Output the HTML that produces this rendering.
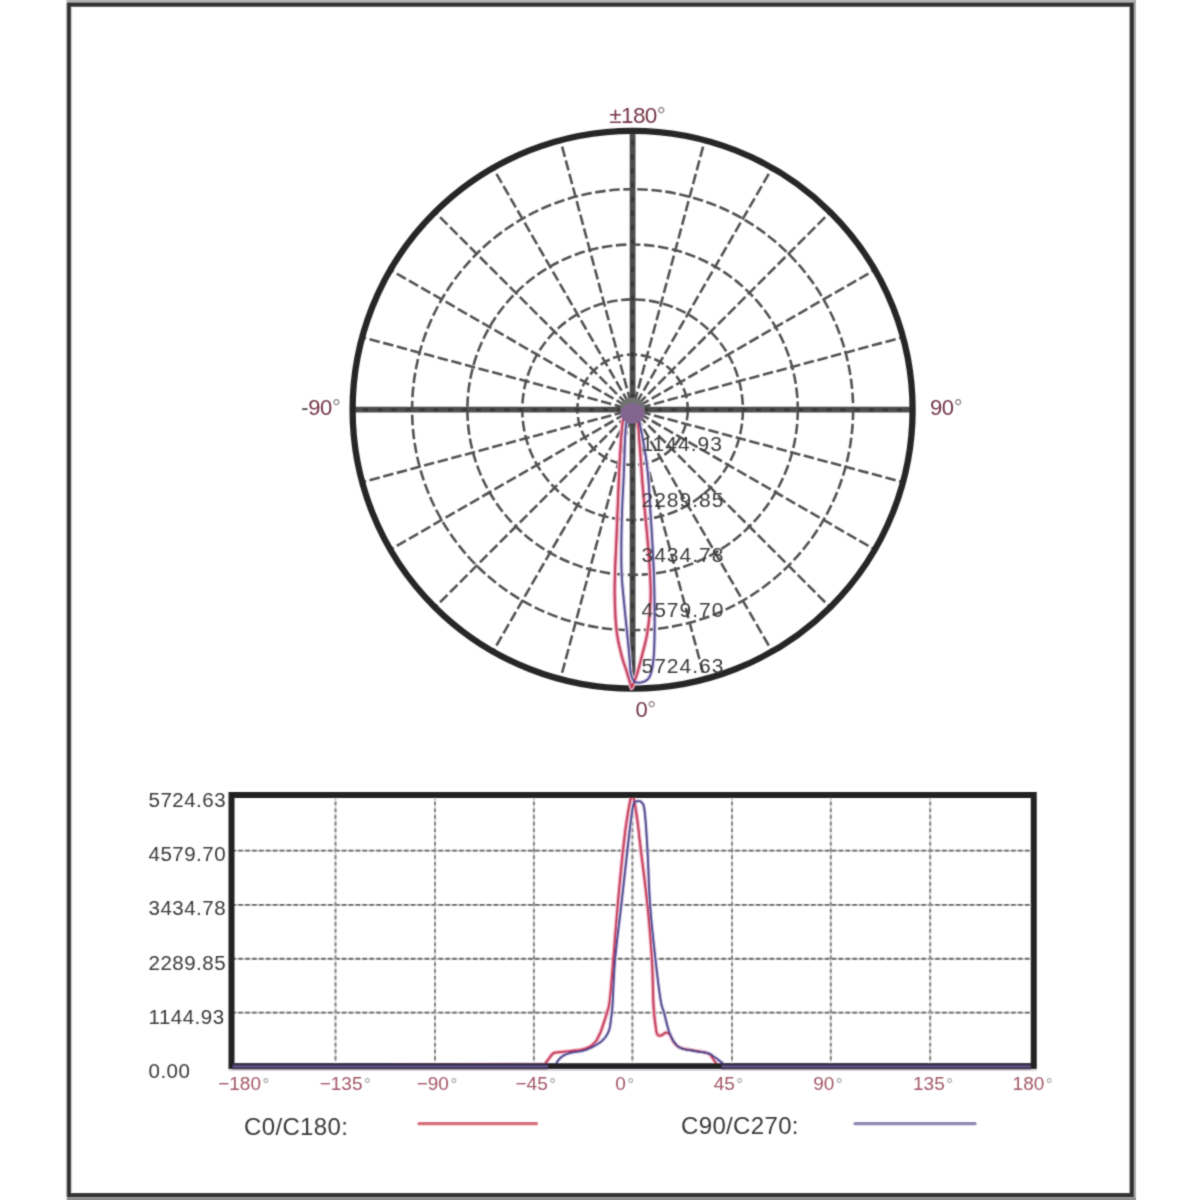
<!DOCTYPE html>
<html><head><meta charset="utf-8"><style>
html,body{margin:0;padding:0;background:#fff;}
svg{display:block;}
</style></head><body>
<svg width="1200" height="1200" viewBox="0 0 1200 1200">
<defs><filter id="bl" x="0" y="0" width="1200" height="1200" filterUnits="userSpaceOnUse"><feConvolveMatrix order="3" kernelMatrix="0.0277 0.1110 0.0277 0.1110 0.4452 0.1110 0.0277 0.1110 0.0277" edgeMode="duplicate" preserveAlpha="false"/></filter></defs>
<rect width="1200" height="1200" fill="#fff"/>
<g filter="url(#bl)">
<rect x="66" y="0" width="1070" height="2.6" fill="#b4b4b4"/>
<rect x="1133.5" y="0" width="2.5" height="1200" fill="#a8a8a8"/>
<rect x="66" y="1197.6" width="1070" height="2.4" fill="#8c8c8c"/>
<rect x="65.8" y="0" width="1.2" height="1200" fill="#e2e2e2"/>
<rect x="71" y="6.7" width="1.2" height="1186" fill="#d6d6d6"/>
<rect x="68.9" y="4.6" width="1062.9" height="1190.6" fill="none" stroke="#333" stroke-width="4.3"/>
<circle cx="632.6" cy="409.7" r="55.2" fill="none" stroke="#535353" stroke-width="2.6" stroke-dasharray="10.5 3.6"/>
<circle cx="632.6" cy="409.7" r="110.3" fill="none" stroke="#535353" stroke-width="2.6" stroke-dasharray="10.5 3.6"/>
<circle cx="632.6" cy="409.7" r="165.2" fill="none" stroke="#535353" stroke-width="2.6" stroke-dasharray="10.5 3.6"/>
<circle cx="632.6" cy="409.7" r="220.5" fill="none" stroke="#535353" stroke-width="2.6" stroke-dasharray="10.5 3.6"/>
<line x1="640.33" y1="411.77" x2="902.38" y2="481.99" stroke="#535353" stroke-width="2.6" stroke-dasharray="10.5 3.6"/>
<line x1="639.53" y1="413.70" x2="874.48" y2="549.35" stroke="#535353" stroke-width="2.6" stroke-dasharray="10.5 3.6"/>
<line x1="638.26" y1="415.36" x2="830.09" y2="607.19" stroke="#535353" stroke-width="2.6" stroke-dasharray="10.5 3.6"/>
<line x1="636.60" y1="416.63" x2="772.25" y2="651.58" stroke="#535353" stroke-width="2.6" stroke-dasharray="10.5 3.6"/>
<line x1="634.67" y1="417.43" x2="704.89" y2="679.48" stroke="#535353" stroke-width="2.6" stroke-dasharray="10.5 3.6"/>
<line x1="630.53" y1="417.43" x2="560.31" y2="679.48" stroke="#535353" stroke-width="2.6" stroke-dasharray="10.5 3.6"/>
<line x1="628.60" y1="416.63" x2="492.95" y2="651.58" stroke="#535353" stroke-width="2.6" stroke-dasharray="10.5 3.6"/>
<line x1="626.94" y1="415.36" x2="435.11" y2="607.19" stroke="#535353" stroke-width="2.6" stroke-dasharray="10.5 3.6"/>
<line x1="625.67" y1="413.70" x2="390.72" y2="549.35" stroke="#535353" stroke-width="2.6" stroke-dasharray="10.5 3.6"/>
<line x1="624.87" y1="411.77" x2="362.82" y2="481.99" stroke="#535353" stroke-width="2.6" stroke-dasharray="10.5 3.6"/>
<line x1="624.87" y1="407.63" x2="362.82" y2="337.41" stroke="#535353" stroke-width="2.6" stroke-dasharray="10.5 3.6"/>
<line x1="625.67" y1="405.70" x2="390.72" y2="270.05" stroke="#535353" stroke-width="2.6" stroke-dasharray="10.5 3.6"/>
<line x1="626.94" y1="404.04" x2="435.11" y2="212.21" stroke="#535353" stroke-width="2.6" stroke-dasharray="10.5 3.6"/>
<line x1="628.60" y1="402.77" x2="492.95" y2="167.82" stroke="#535353" stroke-width="2.6" stroke-dasharray="10.5 3.6"/>
<line x1="630.53" y1="401.97" x2="560.31" y2="139.92" stroke="#535353" stroke-width="2.6" stroke-dasharray="10.5 3.6"/>
<line x1="634.67" y1="401.97" x2="704.89" y2="139.92" stroke="#535353" stroke-width="2.6" stroke-dasharray="10.5 3.6"/>
<line x1="636.60" y1="402.77" x2="772.25" y2="167.82" stroke="#535353" stroke-width="2.6" stroke-dasharray="10.5 3.6"/>
<line x1="638.26" y1="404.04" x2="830.09" y2="212.21" stroke="#535353" stroke-width="2.6" stroke-dasharray="10.5 3.6"/>
<line x1="639.53" y1="405.70" x2="874.48" y2="270.05" stroke="#535353" stroke-width="2.6" stroke-dasharray="10.5 3.6"/>
<line x1="640.33" y1="407.63" x2="902.38" y2="337.41" stroke="#535353" stroke-width="2.6" stroke-dasharray="10.5 3.6"/>
<line x1="353.3" y1="409.7" x2="911.9000000000001" y2="409.7" stroke="#4e4e4e" stroke-width="5.8"/>
<line x1="632.6" y1="130.39999999999998" x2="632.6" y2="689.0" stroke="#4e4e4e" stroke-width="5.8"/>
<line x1="632.6" y1="409.7" x2="911.9000000000001" y2="409.7" stroke="#383838" stroke-width="3" stroke-dasharray="5 9.1" stroke-dashoffset="3.5"/>
<line x1="632.6" y1="409.7" x2="353.3" y2="409.7" stroke="#383838" stroke-width="3" stroke-dasharray="5 9.1" stroke-dashoffset="3.5"/>
<line x1="632.6" y1="409.7" x2="632.6" y2="689.0" stroke="#383838" stroke-width="3" stroke-dasharray="5 9.1" stroke-dashoffset="3.5"/>
<line x1="632.6" y1="409.7" x2="632.6" y2="130.39999999999998" stroke="#383838" stroke-width="3" stroke-dasharray="5 9.1" stroke-dashoffset="3.5"/>
<ellipse cx="632.6" cy="409.7" rx="280.0" ry="278.90000000000003" fill="none" stroke="#282828" stroke-width="6.3"/>
<path d="M627.00,413.00 L626.59,413.51 L626.01,414.19 L625.32,415.00 L624.63,415.93 L623.99,416.94 L623.50,418.00 L623.17,419.09 L622.93,420.22 L622.76,421.44 L622.62,422.78 L622.48,424.28 L622.30,426.00 L622.09,427.92 L621.87,430.00 L621.65,432.25 L621.43,434.67 L621.21,437.25 L621.00,440.00 L620.79,442.97 L620.59,446.19 L620.38,449.56 L620.18,453.04 L619.99,456.54 L619.80,460.00 L619.62,463.41 L619.45,466.81 L619.29,470.25 L619.13,473.74 L618.96,477.31 L618.80,481.00 L618.64,484.70 L618.48,488.37 L618.32,492.12 L618.16,496.07 L617.99,500.33 L617.80,505.00 L617.59,510.22 L617.36,515.93 L617.12,521.94 L616.88,528.07 L616.64,534.16 L616.40,540.00 L616.15,545.69 L615.89,551.37 L615.62,557.00 L615.38,562.52 L615.16,567.87 L615.00,573.00 L614.87,577.79 L614.77,582.27 L614.69,586.58 L614.67,590.87 L614.70,595.30 L614.80,600.00 L614.96,605.10 L615.17,610.51 L615.43,616.06 L615.77,621.55 L616.19,626.83 L616.70,631.70 L617.34,636.20 L618.11,640.48 L618.96,644.54 L619.85,648.37 L620.74,651.99 L621.60,655.40 L622.43,658.49 L623.26,661.26 L624.09,663.80 L624.92,666.24 L625.76,668.71 L626.60,671.30 L627.50,674.21 L628.48,677.37 L629.46,680.54 L630.37,683.50 L631.14,686.00 L631.70,687.80 L632.28,686.35 L633.09,684.40 L634.04,682.06 L635.06,679.47 L636.07,676.74 L637.00,674.00 L637.84,671.24 L638.67,668.34 L639.49,665.32 L640.31,662.16 L641.14,658.85 L642.00,655.40 L642.92,651.84 L643.89,648.17 L644.87,644.37 L645.83,640.38 L646.72,636.17 L647.50,631.70 L648.20,626.83 L648.85,621.55 L649.43,616.06 L649.93,610.51 L650.33,605.10 L650.60,600.00 L650.73,595.30 L650.74,590.87 L650.64,586.58 L650.47,582.27 L650.25,577.79 L650.00,573.00 L649.71,567.87 L649.37,562.52 L648.97,557.00 L648.53,551.37 L648.07,545.69 L647.60,540.00 L647.09,534.16 L646.52,528.07 L645.92,521.94 L645.34,515.93 L644.79,510.22 L644.30,505.00 L643.89,500.33 L643.52,496.07 L643.19,492.12 L642.88,488.37 L642.59,484.70 L642.30,481.00 L642.02,477.31 L641.76,473.74 L641.52,470.25 L641.28,466.81 L641.04,463.41 L640.80,460.00 L640.54,456.54 L640.28,453.04 L640.01,449.56 L639.76,446.19 L639.52,442.97 L639.30,440.00 L639.12,437.25 L638.96,434.67 L638.81,432.25 L638.68,430.00 L638.54,427.92 L638.40,426.00 L638.26,424.28 L638.12,422.78 L637.99,421.44 L637.84,420.22 L637.68,419.09 L637.50,418.00 L637.27,416.94 L636.99,415.93 L636.69,415.00 L636.41,414.19 L636.17,413.51 L636.00,413.00" fill="none" stroke="#f2b0c2" stroke-width="4.4" stroke-linejoin="round"/>
<path d="M636.00,413.00 L636.29,413.51 L636.71,414.19 L637.20,415.00 L637.71,415.93 L638.19,416.94 L638.60,418.00 L638.91,419.09 L639.16,420.22 L639.39,421.44 L639.61,422.78 L639.88,424.28 L640.20,426.00 L640.59,427.92 L641.03,430.00 L641.49,432.25 L641.99,434.67 L642.49,437.25 L643.00,440.00 L643.53,442.97 L644.10,446.19 L644.69,449.56 L645.26,453.04 L645.81,456.54 L646.30,460.00 L646.74,463.41 L647.14,466.81 L647.51,470.25 L647.86,473.74 L648.19,477.31 L648.50,481.00 L648.78,484.70 L649.03,488.37 L649.25,492.12 L649.47,496.07 L649.72,500.33 L650.00,505.00 L650.33,510.22 L650.70,515.93 L651.09,521.94 L651.49,528.07 L651.86,534.16 L652.20,540.00 L652.51,545.69 L652.81,551.37 L653.09,557.00 L653.36,562.52 L653.59,567.87 L653.80,573.00 L653.98,577.79 L654.12,582.27 L654.24,586.58 L654.34,590.87 L654.43,595.30 L654.50,600.00 L654.56,605.10 L654.61,610.51 L654.64,616.06 L654.66,621.55 L654.64,626.83 L654.60,631.70 L654.54,636.20 L654.46,640.48 L654.35,644.54 L654.21,648.37 L654.03,651.99 L653.80,655.40 L653.52,658.59 L653.21,661.56 L652.85,664.32 L652.45,666.86 L652.00,669.19 L651.50,671.30 L650.97,673.17 L650.42,674.79 L649.83,676.20 L649.16,677.43 L648.39,678.52 L647.50,679.50 L646.43,680.35 L645.19,681.05 L643.84,681.60 L642.48,682.03 L641.17,682.36 L640.00,682.60 L638.90,682.71 L637.81,682.65 L636.78,682.49 L635.85,682.29 L635.08,682.11 L634.50,682.00 L634.19,681.46 L633.75,680.73 L633.23,679.86 L632.70,678.90 L632.20,677.93 L631.80,677.00 L631.50,676.21 L631.26,675.53 L631.06,674.83 L630.87,673.98 L630.69,672.85 L630.50,671.30 L630.31,669.33 L630.13,667.04 L629.96,664.47 L629.78,661.66 L629.56,658.62 L629.30,655.40 L628.99,651.99 L628.65,648.37 L628.27,644.54 L627.87,640.48 L627.45,636.20 L627.00,631.70 L626.51,626.83 L625.96,621.55 L625.39,616.06 L624.83,610.51 L624.29,605.10 L623.80,600.00 L623.35,595.30 L622.92,590.87 L622.51,586.58 L622.15,582.27 L621.84,577.79 L621.60,573.00 L621.44,567.87 L621.34,562.52 L621.31,557.00 L621.31,551.37 L621.35,545.69 L621.40,540.00 L621.48,534.16 L621.61,528.07 L621.76,521.94 L621.94,515.93 L622.12,510.22 L622.30,505.00 L622.49,500.33 L622.69,496.07 L622.91,492.12 L623.12,488.37 L623.32,484.70 L623.50,481.00 L623.66,477.31 L623.80,473.74 L623.93,470.25 L624.06,466.81 L624.18,463.41 L624.30,460.00 L624.42,456.54 L624.53,453.04 L624.64,449.56 L624.75,446.19 L624.87,442.97 L625.00,440.00 L625.14,437.25 L625.29,434.67 L625.45,432.25 L625.62,430.00 L625.80,427.92 L626.00,426.00 L626.22,424.28 L626.44,422.78 L626.69,421.44 L626.94,420.22 L627.22,419.09 L627.50,418.00 L627.83,416.94 L628.20,415.93 L628.59,415.00 L628.96,414.19 L629.28,413.51 L629.50,413.00" fill="none" stroke="#cfc6e6" stroke-width="4" stroke-linejoin="round"/>
<path d="M627.00,413.00 L626.59,413.51 L626.01,414.19 L625.32,415.00 L624.63,415.93 L623.99,416.94 L623.50,418.00 L623.17,419.09 L622.93,420.22 L622.76,421.44 L622.62,422.78 L622.48,424.28 L622.30,426.00 L622.09,427.92 L621.87,430.00 L621.65,432.25 L621.43,434.67 L621.21,437.25 L621.00,440.00 L620.79,442.97 L620.59,446.19 L620.38,449.56 L620.18,453.04 L619.99,456.54 L619.80,460.00 L619.62,463.41 L619.45,466.81 L619.29,470.25 L619.13,473.74 L618.96,477.31 L618.80,481.00 L618.64,484.70 L618.48,488.37 L618.32,492.12 L618.16,496.07 L617.99,500.33 L617.80,505.00 L617.59,510.22 L617.36,515.93 L617.12,521.94 L616.88,528.07 L616.64,534.16 L616.40,540.00 L616.15,545.69 L615.89,551.37 L615.62,557.00 L615.38,562.52 L615.16,567.87 L615.00,573.00 L614.87,577.79 L614.77,582.27 L614.69,586.58 L614.67,590.87 L614.70,595.30 L614.80,600.00 L614.96,605.10 L615.17,610.51 L615.43,616.06 L615.77,621.55 L616.19,626.83 L616.70,631.70 L617.34,636.20 L618.11,640.48 L618.96,644.54 L619.85,648.37 L620.74,651.99 L621.60,655.40 L622.43,658.49 L623.26,661.26 L624.09,663.80 L624.92,666.24 L625.76,668.71 L626.60,671.30 L627.50,674.21 L628.48,677.37 L629.46,680.54 L630.37,683.50 L631.14,686.00 L631.70,687.80 L632.28,686.35 L633.09,684.40 L634.04,682.06 L635.06,679.47 L636.07,676.74 L637.00,674.00 L637.84,671.24 L638.67,668.34 L639.49,665.32 L640.31,662.16 L641.14,658.85 L642.00,655.40 L642.92,651.84 L643.89,648.17 L644.87,644.37 L645.83,640.38 L646.72,636.17 L647.50,631.70 L648.20,626.83 L648.85,621.55 L649.43,616.06 L649.93,610.51 L650.33,605.10 L650.60,600.00 L650.73,595.30 L650.74,590.87 L650.64,586.58 L650.47,582.27 L650.25,577.79 L650.00,573.00 L649.71,567.87 L649.37,562.52 L648.97,557.00 L648.53,551.37 L648.07,545.69 L647.60,540.00 L647.09,534.16 L646.52,528.07 L645.92,521.94 L645.34,515.93 L644.79,510.22 L644.30,505.00 L643.89,500.33 L643.52,496.07 L643.19,492.12 L642.88,488.37 L642.59,484.70 L642.30,481.00 L642.02,477.31 L641.76,473.74 L641.52,470.25 L641.28,466.81 L641.04,463.41 L640.80,460.00 L640.54,456.54 L640.28,453.04 L640.01,449.56 L639.76,446.19 L639.52,442.97 L639.30,440.00 L639.12,437.25 L638.96,434.67 L638.81,432.25 L638.68,430.00 L638.54,427.92 L638.40,426.00 L638.26,424.28 L638.12,422.78 L637.99,421.44 L637.84,420.22 L637.68,419.09 L637.50,418.00 L637.27,416.94 L636.99,415.93 L636.69,415.00 L636.41,414.19 L636.17,413.51 L636.00,413.00" fill="none" stroke="#bf3254" stroke-width="1.9" stroke-linejoin="round"/>
<path d="M636.00,413.00 L636.29,413.51 L636.71,414.19 L637.20,415.00 L637.71,415.93 L638.19,416.94 L638.60,418.00 L638.91,419.09 L639.16,420.22 L639.39,421.44 L639.61,422.78 L639.88,424.28 L640.20,426.00 L640.59,427.92 L641.03,430.00 L641.49,432.25 L641.99,434.67 L642.49,437.25 L643.00,440.00 L643.53,442.97 L644.10,446.19 L644.69,449.56 L645.26,453.04 L645.81,456.54 L646.30,460.00 L646.74,463.41 L647.14,466.81 L647.51,470.25 L647.86,473.74 L648.19,477.31 L648.50,481.00 L648.78,484.70 L649.03,488.37 L649.25,492.12 L649.47,496.07 L649.72,500.33 L650.00,505.00 L650.33,510.22 L650.70,515.93 L651.09,521.94 L651.49,528.07 L651.86,534.16 L652.20,540.00 L652.51,545.69 L652.81,551.37 L653.09,557.00 L653.36,562.52 L653.59,567.87 L653.80,573.00 L653.98,577.79 L654.12,582.27 L654.24,586.58 L654.34,590.87 L654.43,595.30 L654.50,600.00 L654.56,605.10 L654.61,610.51 L654.64,616.06 L654.66,621.55 L654.64,626.83 L654.60,631.70 L654.54,636.20 L654.46,640.48 L654.35,644.54 L654.21,648.37 L654.03,651.99 L653.80,655.40 L653.52,658.59 L653.21,661.56 L652.85,664.32 L652.45,666.86 L652.00,669.19 L651.50,671.30 L650.97,673.17 L650.42,674.79 L649.83,676.20 L649.16,677.43 L648.39,678.52 L647.50,679.50 L646.43,680.35 L645.19,681.05 L643.84,681.60 L642.48,682.03 L641.17,682.36 L640.00,682.60 L638.90,682.71 L637.81,682.65 L636.78,682.49 L635.85,682.29 L635.08,682.11 L634.50,682.00 L634.19,681.46 L633.75,680.73 L633.23,679.86 L632.70,678.90 L632.20,677.93 L631.80,677.00 L631.50,676.21 L631.26,675.53 L631.06,674.83 L630.87,673.98 L630.69,672.85 L630.50,671.30 L630.31,669.33 L630.13,667.04 L629.96,664.47 L629.78,661.66 L629.56,658.62 L629.30,655.40 L628.99,651.99 L628.65,648.37 L628.27,644.54 L627.87,640.48 L627.45,636.20 L627.00,631.70 L626.51,626.83 L625.96,621.55 L625.39,616.06 L624.83,610.51 L624.29,605.10 L623.80,600.00 L623.35,595.30 L622.92,590.87 L622.51,586.58 L622.15,582.27 L621.84,577.79 L621.60,573.00 L621.44,567.87 L621.34,562.52 L621.31,557.00 L621.31,551.37 L621.35,545.69 L621.40,540.00 L621.48,534.16 L621.61,528.07 L621.76,521.94 L621.94,515.93 L622.12,510.22 L622.30,505.00 L622.49,500.33 L622.69,496.07 L622.91,492.12 L623.12,488.37 L623.32,484.70 L623.50,481.00 L623.66,477.31 L623.80,473.74 L623.93,470.25 L624.06,466.81 L624.18,463.41 L624.30,460.00 L624.42,456.54 L624.53,453.04 L624.64,449.56 L624.75,446.19 L624.87,442.97 L625.00,440.00 L625.14,437.25 L625.29,434.67 L625.45,432.25 L625.62,430.00 L625.80,427.92 L626.00,426.00 L626.22,424.28 L626.44,422.78 L626.69,421.44 L626.94,420.22 L627.22,419.09 L627.50,418.00 L627.83,416.94 L628.20,415.93 L628.59,415.00 L628.96,414.19 L629.28,413.51 L629.50,413.00" fill="none" stroke="#43438a" stroke-width="1.8" stroke-linejoin="round"/>
<circle cx="632.6" cy="409.7" r="12.3" fill="#727272"/>
<ellipse cx="632.6" cy="413.5" rx="12" ry="10.3" fill="#82668f"/>
<g font-family="Liberation Sans, sans-serif" font-size="22" fill="#743646" letter-spacing="-0.4">
<text x="637.2" y="122.7" text-anchor="middle" font-size="22.5" letter-spacing="-0.6">±180<tspan fill="#8a7c82">°</tspan></text>
<text x="320.8" y="414.6" text-anchor="middle"><tspan fill="#4e4045">-</tspan>90<tspan fill="#8a7c82">°</tspan></text>
<text x="946" y="414.6" text-anchor="middle">90<tspan fill="#8a7c82">°</tspan></text>
<text x="645.6" y="716.9" text-anchor="middle">0<tspan fill="#8a7c82">°</tspan></text>
</g>
<g font-family="Liberation Sans, sans-serif" font-size="21" fill="#3a3a3a" letter-spacing="1">
<text x="641.5" y="451.3">1144.93</text>
<text x="641.5" y="506.6">2289.85</text>
<text x="641.5" y="561.9">3434.78</text>
<text x="641.5" y="617.2">4579.70</text>
<text x="641.5" y="672.5">5724.63</text>
</g>
<line x1="231.5" y1="850.6" x2="1033.75" y2="850.6" stroke="#c8c8c8" stroke-width="1.8"/>
<line x1="231.5" y1="850.6" x2="1033.75" y2="850.6" stroke="#666" stroke-width="1.9" stroke-dasharray="4.4 2.5"/>
<line x1="231.5" y1="904.9" x2="1033.75" y2="904.9" stroke="#c8c8c8" stroke-width="1.8"/>
<line x1="231.5" y1="904.9" x2="1033.75" y2="904.9" stroke="#666" stroke-width="1.9" stroke-dasharray="4.4 2.5"/>
<line x1="231.5" y1="958.8" x2="1033.75" y2="958.8" stroke="#c8c8c8" stroke-width="1.8"/>
<line x1="231.5" y1="958.8" x2="1033.75" y2="958.8" stroke="#666" stroke-width="1.9" stroke-dasharray="4.4 2.5"/>
<line x1="231.5" y1="1012.6" x2="1033.75" y2="1012.6" stroke="#c8c8c8" stroke-width="1.8"/>
<line x1="231.5" y1="1012.6" x2="1033.75" y2="1012.6" stroke="#666" stroke-width="1.9" stroke-dasharray="4.4 2.5"/>
<line x1="335.5" y1="795.0" x2="335.5" y2="1066.2" stroke="#d6d6d6" stroke-width="1.8"/>
<line x1="335.5" y1="795.0" x2="335.5" y2="1066.2" stroke="#828282" stroke-width="2" stroke-dasharray="3.6 3.1"/>
<line x1="435.0" y1="795.0" x2="435.0" y2="1066.2" stroke="#d6d6d6" stroke-width="1.8"/>
<line x1="435.0" y1="795.0" x2="435.0" y2="1066.2" stroke="#828282" stroke-width="2" stroke-dasharray="3.6 3.1"/>
<line x1="533.9" y1="795.0" x2="533.9" y2="1066.2" stroke="#d6d6d6" stroke-width="1.8"/>
<line x1="533.9" y1="795.0" x2="533.9" y2="1066.2" stroke="#828282" stroke-width="2" stroke-dasharray="3.6 3.1"/>
<line x1="632.4" y1="795.0" x2="632.4" y2="1066.2" stroke="#d6d6d6" stroke-width="1.8"/>
<line x1="632.4" y1="795.0" x2="632.4" y2="1066.2" stroke="#828282" stroke-width="2" stroke-dasharray="3.6 3.1"/>
<line x1="732.0" y1="795.0" x2="732.0" y2="1066.2" stroke="#d6d6d6" stroke-width="1.8"/>
<line x1="732.0" y1="795.0" x2="732.0" y2="1066.2" stroke="#828282" stroke-width="2" stroke-dasharray="3.6 3.1"/>
<line x1="830.8" y1="795.0" x2="830.8" y2="1066.2" stroke="#d6d6d6" stroke-width="1.8"/>
<line x1="830.8" y1="795.0" x2="830.8" y2="1066.2" stroke="#828282" stroke-width="2" stroke-dasharray="3.6 3.1"/>
<line x1="930.2" y1="795.0" x2="930.2" y2="1066.2" stroke="#d6d6d6" stroke-width="1.8"/>
<line x1="930.2" y1="795.0" x2="930.2" y2="1066.2" stroke="#828282" stroke-width="2" stroke-dasharray="3.6 3.1"/>
<path d="M234.50,1065.80 L544.70,1064.50 L545.03,1064.03 L545.48,1063.40 L546.01,1062.64 L546.60,1061.81 L547.22,1060.93 L547.85,1060.06 L548.45,1059.24 L549.00,1058.50 L549.51,1057.81 L550.01,1057.11 L550.50,1056.42 L550.99,1055.75 L551.48,1055.12 L551.97,1054.54 L552.48,1054.03 L553.00,1053.60 L553.48,1053.27 L553.87,1053.04 L554.24,1052.89 L554.64,1052.78 L555.11,1052.70 L555.71,1052.63 L556.49,1052.53 L557.50,1052.40 L558.78,1052.24 L560.30,1052.09 L562.00,1051.93 L563.83,1051.77 L565.72,1051.60 L567.64,1051.42 L569.52,1051.22 L571.30,1051.00 L573.05,1050.78 L574.84,1050.56 L576.64,1050.34 L578.44,1050.11 L580.20,1049.84 L581.89,1049.52 L583.50,1049.15 L585.00,1048.70 L586.39,1048.19 L587.70,1047.64 L588.94,1047.03 L590.11,1046.38 L591.22,1045.67 L592.27,1044.91 L593.26,1044.09 L594.20,1043.20 L595.08,1042.23 L595.88,1041.18 L596.61,1040.06 L597.29,1038.88 L597.93,1037.67 L598.54,1036.44 L599.12,1035.21 L599.70,1034.00 L600.25,1032.80 L600.75,1031.59 L601.22,1030.37 L601.67,1029.14 L602.10,1027.90 L602.52,1026.62 L602.95,1025.33 L603.40,1024.00 L603.86,1022.64 L604.33,1021.25 L604.79,1019.84 L605.26,1018.41 L605.71,1016.95 L606.16,1015.48 L606.59,1014.00 L607.00,1012.50 L607.38,1011.18 L607.74,1010.12 L608.07,1009.14 L608.40,1008.10 L608.73,1006.83 L609.06,1005.16 L609.42,1002.94 L609.80,1000.00 L610.21,996.32 L610.63,992.03 L611.06,987.24 L611.50,982.02 L611.96,976.49 L612.43,970.73 L612.91,964.84 L613.40,958.90 L613.90,952.80 L614.41,946.39 L614.94,939.73 L615.47,932.91 L616.02,925.97 L616.58,919.00 L617.16,912.05 L617.75,905.20 L618.37,898.27 L619.01,891.12 L619.68,883.88 L620.36,876.66 L621.04,869.58 L621.71,862.76 L622.37,856.33 L623.00,850.40 L623.61,844.94 L624.19,839.81 L624.77,835.01 L625.33,830.49 L625.90,826.26 L626.46,822.28 L627.02,818.53 L627.60,815.00 L628.19,811.54 L628.78,808.09 L629.37,804.81 L629.97,801.82 L630.56,799.26 L631.15,797.26 L631.73,795.96 L632.30,795.50 L632.86,795.96 L633.40,797.26 L633.94,799.26 L634.47,801.82 L635.01,804.81 L635.53,808.09 L636.07,811.54 L636.60,815.00 L637.12,818.53 L637.62,822.28 L638.11,826.26 L638.61,830.49 L639.12,835.01 L639.66,839.81 L640.25,844.94 L640.90,850.40 L641.63,856.33 L642.44,862.76 L643.30,869.58 L644.19,876.66 L645.09,883.88 L645.95,891.12 L646.76,898.27 L647.50,905.20 L648.17,912.02 L648.82,918.88 L649.43,925.75 L650.01,932.59 L650.55,939.37 L651.05,946.04 L651.50,952.56 L651.90,958.90 L652.23,965.19 L652.48,971.53 L652.68,977.82 L652.84,983.95 L652.98,989.83 L653.12,995.37 L653.29,1000.46 L653.50,1005.00 L653.75,1008.98 L654.02,1012.47 L654.30,1015.54 L654.59,1018.24 L654.88,1020.65 L655.16,1022.82 L655.44,1024.82 L655.70,1026.70 L655.93,1028.39 L656.13,1029.79 L656.32,1030.95 L656.51,1031.90 L656.70,1032.69 L656.93,1033.36 L657.19,1033.95 L657.50,1034.50 L657.87,1034.97 L658.27,1035.29 L658.71,1035.50 L659.18,1035.61 L659.66,1035.63 L660.17,1035.59 L660.68,1035.51 L661.20,1035.40 L661.74,1035.21 L662.31,1034.88 L662.90,1034.48 L663.51,1034.03 L664.11,1033.58 L664.70,1033.18 L665.27,1032.87 L665.80,1032.70 L666.29,1032.62 L666.75,1032.58 L667.18,1032.59 L667.60,1032.66 L668.02,1032.82 L668.45,1033.09 L668.91,1033.48 L669.40,1034.00 L669.91,1034.72 L670.44,1035.65 L670.97,1036.72 L671.52,1037.89 L672.09,1039.08 L672.69,1040.26 L673.33,1041.35 L674.00,1042.30 L674.67,1043.14 L675.32,1043.94 L675.98,1044.69 L676.68,1045.39 L677.45,1046.06 L678.32,1046.68 L679.33,1047.26 L680.50,1047.80 L681.87,1048.28 L683.42,1048.69 L685.11,1049.05 L686.89,1049.37 L688.74,1049.68 L690.60,1049.97 L692.43,1050.27 L694.20,1050.60 L695.98,1050.93 L697.86,1051.24 L699.77,1051.53 L701.67,1051.83 L703.49,1052.15 L705.19,1052.49 L706.71,1052.87 L708.00,1053.30 L709.02,1053.79 L709.82,1054.32 L710.44,1054.89 L710.94,1055.48 L711.35,1056.10 L711.74,1056.73 L712.14,1057.37 L712.60,1058.00 L713.10,1058.66 L713.57,1059.37 L714.01,1060.11 L714.45,1060.84 L714.88,1061.56 L715.31,1062.24 L715.75,1062.86 L716.20,1063.40 L716.69,1063.86 L717.23,1064.27 L717.78,1064.63 L718.33,1064.94 L718.84,1065.21 L719.31,1065.44 L719.71,1065.64 L720.00,1065.80 L1030.75,1065.80" fill="none" stroke="#f2b4c4" stroke-width="4.2" stroke-linejoin="round"/>
<path d="M234.50,1065.80 L555.70,1064.50 L556.03,1063.99 L556.44,1063.29 L556.93,1062.46 L557.49,1061.54 L558.11,1060.59 L558.79,1059.65 L559.52,1058.77 L560.30,1058.00 L561.11,1057.31 L561.94,1056.65 L562.83,1056.02 L563.77,1055.41 L564.79,1054.84 L565.91,1054.29 L567.14,1053.78 L568.50,1053.30 L570.05,1052.88 L571.80,1052.53 L573.70,1052.22 L575.67,1051.94 L577.67,1051.66 L579.63,1051.36 L581.50,1051.01 L583.20,1050.60 L584.76,1050.13 L586.25,1049.63 L587.68,1049.10 L589.04,1048.54 L590.37,1047.95 L591.66,1047.33 L592.94,1046.68 L594.20,1046.00 L595.46,1045.30 L596.71,1044.57 L597.94,1043.82 L599.14,1043.03 L600.29,1042.21 L601.40,1041.35 L602.43,1040.45 L603.40,1039.50 L604.30,1038.51 L605.13,1037.50 L605.91,1036.44 L606.64,1035.35 L607.31,1034.21 L607.92,1033.00 L608.49,1031.74 L609.00,1030.40 L609.44,1028.97 L609.81,1027.43 L610.11,1025.82 L610.37,1024.16 L610.59,1022.48 L610.79,1020.79 L610.99,1019.12 L611.20,1017.50 L611.40,1016.15 L611.56,1015.13 L611.70,1014.26 L611.83,1013.33 L611.96,1012.13 L612.10,1010.48 L612.28,1008.17 L612.50,1005.00 L612.74,1000.90 L612.98,996.02 L613.22,990.51 L613.50,984.52 L613.81,978.22 L614.17,971.75 L614.60,965.26 L615.10,958.90 L615.70,952.56 L616.39,946.04 L617.15,939.37 L617.95,932.59 L618.79,925.75 L619.63,918.88 L620.46,912.02 L621.25,905.20 L622.04,898.24 L622.85,891.01 L623.67,883.66 L624.48,876.34 L625.28,869.21 L626.04,862.41 L626.75,856.09 L627.40,850.40 L627.98,845.34 L628.50,840.76 L628.97,836.60 L629.41,832.81 L629.82,829.31 L630.22,826.05 L630.61,822.97 L631.00,820.00 L631.38,817.17 L631.74,814.56 L632.07,812.17 L632.39,809.99 L632.72,808.03 L633.06,806.29 L633.41,804.78 L633.80,803.50 L634.22,802.52 L634.65,801.87 L635.11,801.49 L635.57,801.31 L636.05,801.26 L636.53,801.29 L637.02,801.32 L637.50,801.30 L637.99,801.22 L638.50,801.14 L639.02,801.10 L639.54,801.12 L640.05,801.22 L640.56,801.43 L641.04,801.78 L641.50,802.30 L641.93,802.81 L642.34,803.21 L642.74,803.65 L643.12,804.25 L643.49,805.15 L643.86,806.49 L644.23,808.39 L644.60,811.00 L644.97,814.35 L645.35,818.33 L645.72,822.85 L646.08,827.82 L646.44,833.15 L646.80,838.75 L647.15,844.53 L647.50,850.40 L647.82,856.52 L648.11,863.04 L648.38,869.87 L648.65,876.91 L648.94,884.05 L649.27,891.22 L649.65,898.30 L650.10,905.20 L650.63,912.05 L651.24,919.00 L651.89,925.97 L652.59,932.91 L653.30,939.73 L654.02,946.39 L654.72,952.80 L655.40,958.90 L656.07,964.84 L656.75,970.73 L657.44,976.49 L658.12,982.02 L658.79,987.24 L659.43,992.03 L660.04,996.32 L660.60,1000.00 L661.11,1002.92 L661.57,1005.10 L662.00,1006.71 L662.40,1007.93 L662.79,1008.94 L663.18,1009.93 L663.58,1011.05 L664.00,1012.50 L664.45,1014.23 L664.90,1016.07 L665.37,1017.96 L665.84,1019.86 L666.30,1021.73 L666.75,1023.53 L667.19,1025.20 L667.60,1026.70 L667.98,1028.02 L668.31,1029.19 L668.63,1030.25 L668.94,1031.22 L669.25,1032.15 L669.59,1033.07 L669.97,1034.01 L670.40,1035.00 L670.88,1036.05 L671.38,1037.13 L671.91,1038.22 L672.48,1039.30 L673.06,1040.36 L673.68,1041.37 L674.33,1042.32 L675.00,1043.20 L675.67,1044.00 L676.32,1044.75 L676.99,1045.45 L677.69,1046.09 L678.45,1046.70 L679.31,1047.27 L680.28,1047.80 L681.40,1048.30 L682.69,1048.76 L684.13,1049.15 L685.69,1049.51 L687.34,1049.83 L689.05,1050.12 L690.78,1050.41 L692.51,1050.70 L694.20,1051.00 L695.93,1051.30 L697.75,1051.57 L699.63,1051.83 L701.50,1052.09 L703.32,1052.35 L705.05,1052.64 L706.62,1052.95 L708.00,1053.30 L709.15,1053.68 L710.10,1054.08 L710.90,1054.51 L711.61,1054.95 L712.26,1055.42 L712.91,1055.92 L713.61,1056.44 L714.40,1057.00 L715.29,1057.62 L716.25,1058.30 L717.23,1059.03 L718.22,1059.77 L719.19,1060.52 L720.11,1061.24 L720.95,1061.91 L721.70,1062.50 L722.36,1063.04 L722.96,1063.56 L723.51,1064.04 L724.01,1064.49 L724.44,1064.90 L724.82,1065.26 L725.14,1065.56 L725.40,1065.80 L1030.75,1065.80" fill="none" stroke="#d0c8e6" stroke-width="3.8" stroke-linejoin="round"/>
<path d="M234.50,1065.80 L544.70,1064.50 L545.03,1064.03 L545.48,1063.40 L546.01,1062.64 L546.60,1061.81 L547.22,1060.93 L547.85,1060.06 L548.45,1059.24 L549.00,1058.50 L549.51,1057.81 L550.01,1057.11 L550.50,1056.42 L550.99,1055.75 L551.48,1055.12 L551.97,1054.54 L552.48,1054.03 L553.00,1053.60 L553.48,1053.27 L553.87,1053.04 L554.24,1052.89 L554.64,1052.78 L555.11,1052.70 L555.71,1052.63 L556.49,1052.53 L557.50,1052.40 L558.78,1052.24 L560.30,1052.09 L562.00,1051.93 L563.83,1051.77 L565.72,1051.60 L567.64,1051.42 L569.52,1051.22 L571.30,1051.00 L573.05,1050.78 L574.84,1050.56 L576.64,1050.34 L578.44,1050.11 L580.20,1049.84 L581.89,1049.52 L583.50,1049.15 L585.00,1048.70 L586.39,1048.19 L587.70,1047.64 L588.94,1047.03 L590.11,1046.38 L591.22,1045.67 L592.27,1044.91 L593.26,1044.09 L594.20,1043.20 L595.08,1042.23 L595.88,1041.18 L596.61,1040.06 L597.29,1038.88 L597.93,1037.67 L598.54,1036.44 L599.12,1035.21 L599.70,1034.00 L600.25,1032.80 L600.75,1031.59 L601.22,1030.37 L601.67,1029.14 L602.10,1027.90 L602.52,1026.62 L602.95,1025.33 L603.40,1024.00 L603.86,1022.64 L604.33,1021.25 L604.79,1019.84 L605.26,1018.41 L605.71,1016.95 L606.16,1015.48 L606.59,1014.00 L607.00,1012.50 L607.38,1011.18 L607.74,1010.12 L608.07,1009.14 L608.40,1008.10 L608.73,1006.83 L609.06,1005.16 L609.42,1002.94 L609.80,1000.00 L610.21,996.32 L610.63,992.03 L611.06,987.24 L611.50,982.02 L611.96,976.49 L612.43,970.73 L612.91,964.84 L613.40,958.90 L613.90,952.80 L614.41,946.39 L614.94,939.73 L615.47,932.91 L616.02,925.97 L616.58,919.00 L617.16,912.05 L617.75,905.20 L618.37,898.27 L619.01,891.12 L619.68,883.88 L620.36,876.66 L621.04,869.58 L621.71,862.76 L622.37,856.33 L623.00,850.40 L623.61,844.94 L624.19,839.81 L624.77,835.01 L625.33,830.49 L625.90,826.26 L626.46,822.28 L627.02,818.53 L627.60,815.00 L628.19,811.54 L628.78,808.09 L629.37,804.81 L629.97,801.82 L630.56,799.26 L631.15,797.26 L631.73,795.96 L632.30,795.50 L632.86,795.96 L633.40,797.26 L633.94,799.26 L634.47,801.82 L635.01,804.81 L635.53,808.09 L636.07,811.54 L636.60,815.00 L637.12,818.53 L637.62,822.28 L638.11,826.26 L638.61,830.49 L639.12,835.01 L639.66,839.81 L640.25,844.94 L640.90,850.40 L641.63,856.33 L642.44,862.76 L643.30,869.58 L644.19,876.66 L645.09,883.88 L645.95,891.12 L646.76,898.27 L647.50,905.20 L648.17,912.02 L648.82,918.88 L649.43,925.75 L650.01,932.59 L650.55,939.37 L651.05,946.04 L651.50,952.56 L651.90,958.90 L652.23,965.19 L652.48,971.53 L652.68,977.82 L652.84,983.95 L652.98,989.83 L653.12,995.37 L653.29,1000.46 L653.50,1005.00 L653.75,1008.98 L654.02,1012.47 L654.30,1015.54 L654.59,1018.24 L654.88,1020.65 L655.16,1022.82 L655.44,1024.82 L655.70,1026.70 L655.93,1028.39 L656.13,1029.79 L656.32,1030.95 L656.51,1031.90 L656.70,1032.69 L656.93,1033.36 L657.19,1033.95 L657.50,1034.50 L657.87,1034.97 L658.27,1035.29 L658.71,1035.50 L659.18,1035.61 L659.66,1035.63 L660.17,1035.59 L660.68,1035.51 L661.20,1035.40 L661.74,1035.21 L662.31,1034.88 L662.90,1034.48 L663.51,1034.03 L664.11,1033.58 L664.70,1033.18 L665.27,1032.87 L665.80,1032.70 L666.29,1032.62 L666.75,1032.58 L667.18,1032.59 L667.60,1032.66 L668.02,1032.82 L668.45,1033.09 L668.91,1033.48 L669.40,1034.00 L669.91,1034.72 L670.44,1035.65 L670.97,1036.72 L671.52,1037.89 L672.09,1039.08 L672.69,1040.26 L673.33,1041.35 L674.00,1042.30 L674.67,1043.14 L675.32,1043.94 L675.98,1044.69 L676.68,1045.39 L677.45,1046.06 L678.32,1046.68 L679.33,1047.26 L680.50,1047.80 L681.87,1048.28 L683.42,1048.69 L685.11,1049.05 L686.89,1049.37 L688.74,1049.68 L690.60,1049.97 L692.43,1050.27 L694.20,1050.60 L695.98,1050.93 L697.86,1051.24 L699.77,1051.53 L701.67,1051.83 L703.49,1052.15 L705.19,1052.49 L706.71,1052.87 L708.00,1053.30 L709.02,1053.79 L709.82,1054.32 L710.44,1054.89 L710.94,1055.48 L711.35,1056.10 L711.74,1056.73 L712.14,1057.37 L712.60,1058.00 L713.10,1058.66 L713.57,1059.37 L714.01,1060.11 L714.45,1060.84 L714.88,1061.56 L715.31,1062.24 L715.75,1062.86 L716.20,1063.40 L716.69,1063.86 L717.23,1064.27 L717.78,1064.63 L718.33,1064.94 L718.84,1065.21 L719.31,1065.44 L719.71,1065.64 L720.00,1065.80 L1030.75,1065.80" fill="none" stroke="#c33456" stroke-width="1.9" stroke-linejoin="round"/>
<path d="M234.50,1065.80 L555.70,1064.50 L556.03,1063.99 L556.44,1063.29 L556.93,1062.46 L557.49,1061.54 L558.11,1060.59 L558.79,1059.65 L559.52,1058.77 L560.30,1058.00 L561.11,1057.31 L561.94,1056.65 L562.83,1056.02 L563.77,1055.41 L564.79,1054.84 L565.91,1054.29 L567.14,1053.78 L568.50,1053.30 L570.05,1052.88 L571.80,1052.53 L573.70,1052.22 L575.67,1051.94 L577.67,1051.66 L579.63,1051.36 L581.50,1051.01 L583.20,1050.60 L584.76,1050.13 L586.25,1049.63 L587.68,1049.10 L589.04,1048.54 L590.37,1047.95 L591.66,1047.33 L592.94,1046.68 L594.20,1046.00 L595.46,1045.30 L596.71,1044.57 L597.94,1043.82 L599.14,1043.03 L600.29,1042.21 L601.40,1041.35 L602.43,1040.45 L603.40,1039.50 L604.30,1038.51 L605.13,1037.50 L605.91,1036.44 L606.64,1035.35 L607.31,1034.21 L607.92,1033.00 L608.49,1031.74 L609.00,1030.40 L609.44,1028.97 L609.81,1027.43 L610.11,1025.82 L610.37,1024.16 L610.59,1022.48 L610.79,1020.79 L610.99,1019.12 L611.20,1017.50 L611.40,1016.15 L611.56,1015.13 L611.70,1014.26 L611.83,1013.33 L611.96,1012.13 L612.10,1010.48 L612.28,1008.17 L612.50,1005.00 L612.74,1000.90 L612.98,996.02 L613.22,990.51 L613.50,984.52 L613.81,978.22 L614.17,971.75 L614.60,965.26 L615.10,958.90 L615.70,952.56 L616.39,946.04 L617.15,939.37 L617.95,932.59 L618.79,925.75 L619.63,918.88 L620.46,912.02 L621.25,905.20 L622.04,898.24 L622.85,891.01 L623.67,883.66 L624.48,876.34 L625.28,869.21 L626.04,862.41 L626.75,856.09 L627.40,850.40 L627.98,845.34 L628.50,840.76 L628.97,836.60 L629.41,832.81 L629.82,829.31 L630.22,826.05 L630.61,822.97 L631.00,820.00 L631.38,817.17 L631.74,814.56 L632.07,812.17 L632.39,809.99 L632.72,808.03 L633.06,806.29 L633.41,804.78 L633.80,803.50 L634.22,802.52 L634.65,801.87 L635.11,801.49 L635.57,801.31 L636.05,801.26 L636.53,801.29 L637.02,801.32 L637.50,801.30 L637.99,801.22 L638.50,801.14 L639.02,801.10 L639.54,801.12 L640.05,801.22 L640.56,801.43 L641.04,801.78 L641.50,802.30 L641.93,802.81 L642.34,803.21 L642.74,803.65 L643.12,804.25 L643.49,805.15 L643.86,806.49 L644.23,808.39 L644.60,811.00 L644.97,814.35 L645.35,818.33 L645.72,822.85 L646.08,827.82 L646.44,833.15 L646.80,838.75 L647.15,844.53 L647.50,850.40 L647.82,856.52 L648.11,863.04 L648.38,869.87 L648.65,876.91 L648.94,884.05 L649.27,891.22 L649.65,898.30 L650.10,905.20 L650.63,912.05 L651.24,919.00 L651.89,925.97 L652.59,932.91 L653.30,939.73 L654.02,946.39 L654.72,952.80 L655.40,958.90 L656.07,964.84 L656.75,970.73 L657.44,976.49 L658.12,982.02 L658.79,987.24 L659.43,992.03 L660.04,996.32 L660.60,1000.00 L661.11,1002.92 L661.57,1005.10 L662.00,1006.71 L662.40,1007.93 L662.79,1008.94 L663.18,1009.93 L663.58,1011.05 L664.00,1012.50 L664.45,1014.23 L664.90,1016.07 L665.37,1017.96 L665.84,1019.86 L666.30,1021.73 L666.75,1023.53 L667.19,1025.20 L667.60,1026.70 L667.98,1028.02 L668.31,1029.19 L668.63,1030.25 L668.94,1031.22 L669.25,1032.15 L669.59,1033.07 L669.97,1034.01 L670.40,1035.00 L670.88,1036.05 L671.38,1037.13 L671.91,1038.22 L672.48,1039.30 L673.06,1040.36 L673.68,1041.37 L674.33,1042.32 L675.00,1043.20 L675.67,1044.00 L676.32,1044.75 L676.99,1045.45 L677.69,1046.09 L678.45,1046.70 L679.31,1047.27 L680.28,1047.80 L681.40,1048.30 L682.69,1048.76 L684.13,1049.15 L685.69,1049.51 L687.34,1049.83 L689.05,1050.12 L690.78,1050.41 L692.51,1050.70 L694.20,1051.00 L695.93,1051.30 L697.75,1051.57 L699.63,1051.83 L701.50,1052.09 L703.32,1052.35 L705.05,1052.64 L706.62,1052.95 L708.00,1053.30 L709.15,1053.68 L710.10,1054.08 L710.90,1054.51 L711.61,1054.95 L712.26,1055.42 L712.91,1055.92 L713.61,1056.44 L714.40,1057.00 L715.29,1057.62 L716.25,1058.30 L717.23,1059.03 L718.22,1059.77 L719.19,1060.52 L720.11,1061.24 L720.95,1061.91 L721.70,1062.50 L722.36,1063.04 L722.96,1063.56 L723.51,1064.04 L724.01,1064.49 L724.44,1064.90 L724.82,1065.26 L725.14,1065.56 L725.40,1065.80 L1030.75,1065.80" fill="none" stroke="#40408a" stroke-width="1.8" stroke-linejoin="round"/>
<rect x="231.5" y="795.0" width="802.25" height="271.20000000000005" fill="none" stroke="#222" stroke-width="6"/>
<rect x="232.0" y="1063.4" width="316.0" height="6.3" fill="#372d4a"/>
<line x1="233.0" y1="1066.6000000000001" x2="548" y2="1066.6000000000001" stroke="#62578a" stroke-width="2"/>
<rect x="721" y="1063.4" width="309.75" height="6.3" fill="#372d4a"/>
<line x1="722" y1="1066.6000000000001" x2="1030.75" y2="1066.6000000000001" stroke="#62578a" stroke-width="2"/>
<line x1="228.5" y1="1070.2" x2="1036.75" y2="1070.2" stroke="#d8d4de" stroke-width="1.6"/>
<g font-family="Liberation Sans, sans-serif" font-size="20.5" fill="#3a3a3a" letter-spacing="0.5">
<text x="148.5" y="807.0">5724.63</text>
<text x="148.5" y="861.1">4579.70</text>
<text x="148.5" y="915.3">3434.78</text>
<text x="148.5" y="969.5">2289.85</text>
<text x="148.5" y="1023.6">1144.93</text>
<text x="148.5" y="1077.8">0.00</text>
</g>
<g font-family="Liberation Sans, sans-serif" font-size="19" fill="#a35868">
<text x="218.2" y="1090">−180<tspan dx="1.5" font-size="17" fill="#a0a0a0">°</tspan></text>
<text x="319.7" y="1090">−135<tspan dx="1.5" font-size="17" fill="#a0a0a0">°</tspan></text>
<text x="416.7" y="1090">−90<tspan dx="1.5" font-size="17" fill="#a0a0a0">°</tspan></text>
<text x="515.5" y="1090">−45<tspan dx="1.5" font-size="17" fill="#a0a0a0">°</tspan></text>
<text x="615.2" y="1090">0<tspan dx="1.5" font-size="17" fill="#a0a0a0">°</tspan></text>
<text x="713.7" y="1090">45<tspan dx="1.5" font-size="17" fill="#a0a0a0">°</tspan></text>
<text x="813.2" y="1090">90<tspan dx="1.5" font-size="17" fill="#a0a0a0">°</tspan></text>
<text x="913.0" y="1090">135<tspan dx="1.5" font-size="17" fill="#a0a0a0">°</tspan></text>
<text x="1012.6" y="1090">180<tspan dx="1.5" font-size="17" fill="#a0a0a0">°</tspan></text>
</g>
<g font-family="Liberation Sans, sans-serif" font-size="24" fill="#3a3a3a" letter-spacing="0.35">
<text x="244" y="1134.5">C0/C180:</text>
<text x="681" y="1134">C90/C270:</text>
</g>
<line x1="419" y1="1123.7" x2="536.5" y2="1123.7" stroke="#d8707a" stroke-width="3.2" stroke-linecap="round"/>
<line x1="855" y1="1123.7" x2="975" y2="1123.7" stroke="#8c88b4" stroke-width="3.2" stroke-linecap="round"/>
</g>
</svg>
</body></html>
